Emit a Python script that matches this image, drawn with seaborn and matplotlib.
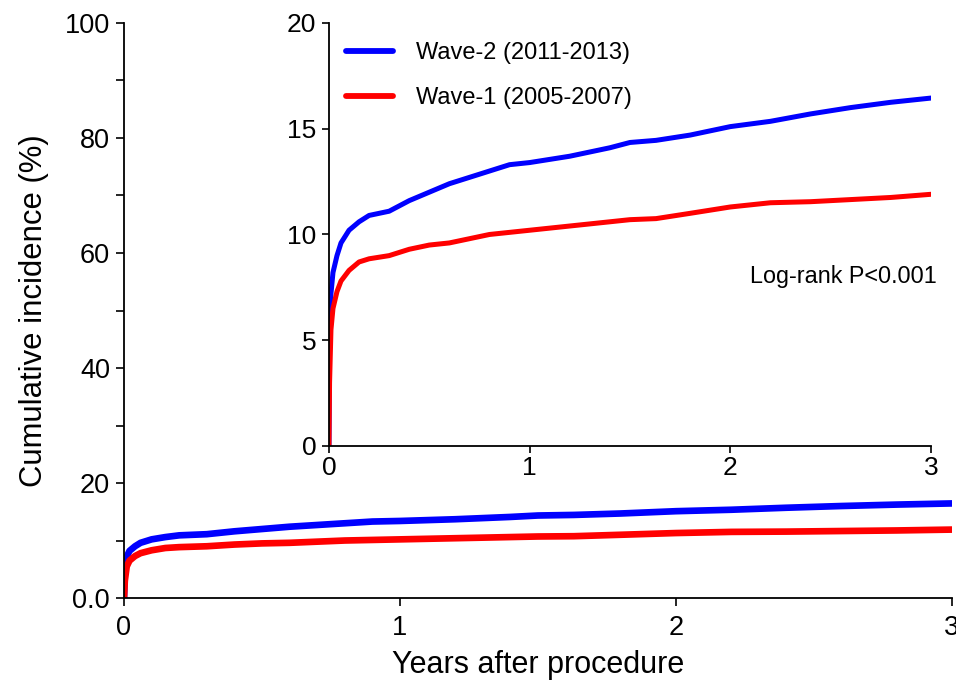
import matplotlib
matplotlib.use("Agg")
import matplotlib.pyplot as plt
from matplotlib.ticker import MultipleLocator, FixedLocator
import seaborn as sns
import pandas as pd

# Follow-up time (years) and cumulative incidence (%) per cohort
years = [0.0, 0.003, 0.01, 0.02, 0.04, 0.06, 0.1, 0.15, 0.2, 0.3, 0.4, 0.5,
         0.6, 0.7, 0.8, 0.9, 1.0, 1.2, 1.4, 1.5, 1.63, 1.8, 2.0, 2.2, 2.4,
         2.6, 2.8, 3.0]
wave2 = [0.0, 5.0, 7.2, 8.2, 9.0, 9.6, 10.2, 10.6, 10.9, 11.1, 11.6, 12.0,
         12.4, 12.7, 13.0, 13.3, 13.4, 13.7, 14.1, 14.35, 14.45, 14.7, 15.1,
         15.35, 15.7, 16.0, 16.25, 16.45]
wave1 = [0.0, 3.0, 5.5, 6.5, 7.3, 7.8, 8.3, 8.7, 8.85, 9.0, 9.3, 9.5,
         9.6, 9.8, 10.0, 10.1, 10.2, 10.4, 10.6, 10.7, 10.75, 11.0, 11.3,
         11.5, 11.55, 11.65, 11.75, 11.9]
labels = ["Wave-2 (2011-2013)", "Wave-1 (2005-2007)"]
colors = ["#0000FF", "#FF0000"]

df = pd.concat([
    pd.DataFrame({"years": years, "inc": wave2, "group": labels[0]}),
    pd.DataFrame({"years": years, "inc": wave1, "group": labels[1]}),
])
palette = dict(zip(labels, colors))

sns.set_style("ticks")
plt.rcParams["font.family"] = ["Liberation Sans", "DejaVu Sans"]
plt.rcParams["text.color"] = "black"
plt.rcParams["axes.labelcolor"] = "black"
plt.rcParams["xtick.color"] = "black"
plt.rcParams["ytick.color"] = "black"

fig = plt.figure(figsize=(9.56, 6.84), dpi=100)

# Main panel: full 0-100 % scale
ax = fig.add_axes([0.1297, 0.1257, 0.8661, 0.8407])
sns.lineplot(data=df, x="years", y="inc", hue="group", palette=palette,
             hue_order=labels, estimator=None, linewidth=4.8, ax=ax,
             legend=False)
ax.set_xlim(0, 3)
ax.set_ylim(0, 100)
ax.xaxis.set_major_locator(FixedLocator([0, 1, 2, 3]))
ax.yaxis.set_major_locator(FixedLocator([0, 20, 40, 60, 80, 100]))
ax.yaxis.set_minor_locator(FixedLocator([10, 30, 50, 70, 90]))
ax.set_yticklabels(["0.0", "20", "40", "60", "80", "100"])
ax.tick_params(axis="both", which="major", labelsize=19.5, length=6,
               width=1.2, direction="out", pad=4)
ax.tick_params(axis="x", which="major", pad=6)
ax.tick_params(axis="y", which="minor", length=6, width=1.2)
ax.set_xlabel("Years after procedure", fontsize=22, labelpad=7)
ax.set_ylabel("Cumulative incidence (%)", fontsize=22.3)
ax.yaxis.set_label_coords(-0.091, 0.5)
for s in ["top", "right"]:
    ax.spines[s].set_visible(False)
for s in ["left", "bottom"]:
    ax.spines[s].set_linewidth(1.3)
    ax.spines[s].set_color("black")

# Inset: zoomed 0-20 % scale
ins = fig.add_axes([0.3441, 0.3480, 0.6297, 0.6184])
sns.lineplot(data=df, x="years", y="inc", hue="group", palette=palette,
             hue_order=labels, estimator=None, linewidth=3.6, ax=ins)
ins.set_xlim(0, 3)
ins.set_ylim(0, 20)
ins.xaxis.set_major_locator(MultipleLocator(1))
ins.yaxis.set_major_locator(MultipleLocator(5))
ins.tick_params(axis="both", labelsize=19, length=5, width=1.2,
                direction="out", pad=4)
ins.tick_params(axis="x", pad=2)
ins.set_xlabel("")
ins.set_ylabel("")
for s in ["top", "right"]:
    ins.spines[s].set_visible(False)
for s in ["left", "bottom"]:
    ins.spines[s].set_linewidth(1.3)
    ins.spines[s].set_color("black")

leg = ins.legend(loc="upper left", frameon=False, fontsize=17,
                 handlelength=2.0, handletextpad=0.95, labelspacing=1.0,
                 bbox_to_anchor=(-0.003, 1.0), borderaxespad=0.4)
for line in leg.get_lines():
    line.set_linewidth(4.2)

ins.text(3.03, 8.0, "Log-rank P<0.001", fontsize=16.8, ha="right",
         va="center")

fig.savefig("out.png", dpi=100, facecolor="white")
